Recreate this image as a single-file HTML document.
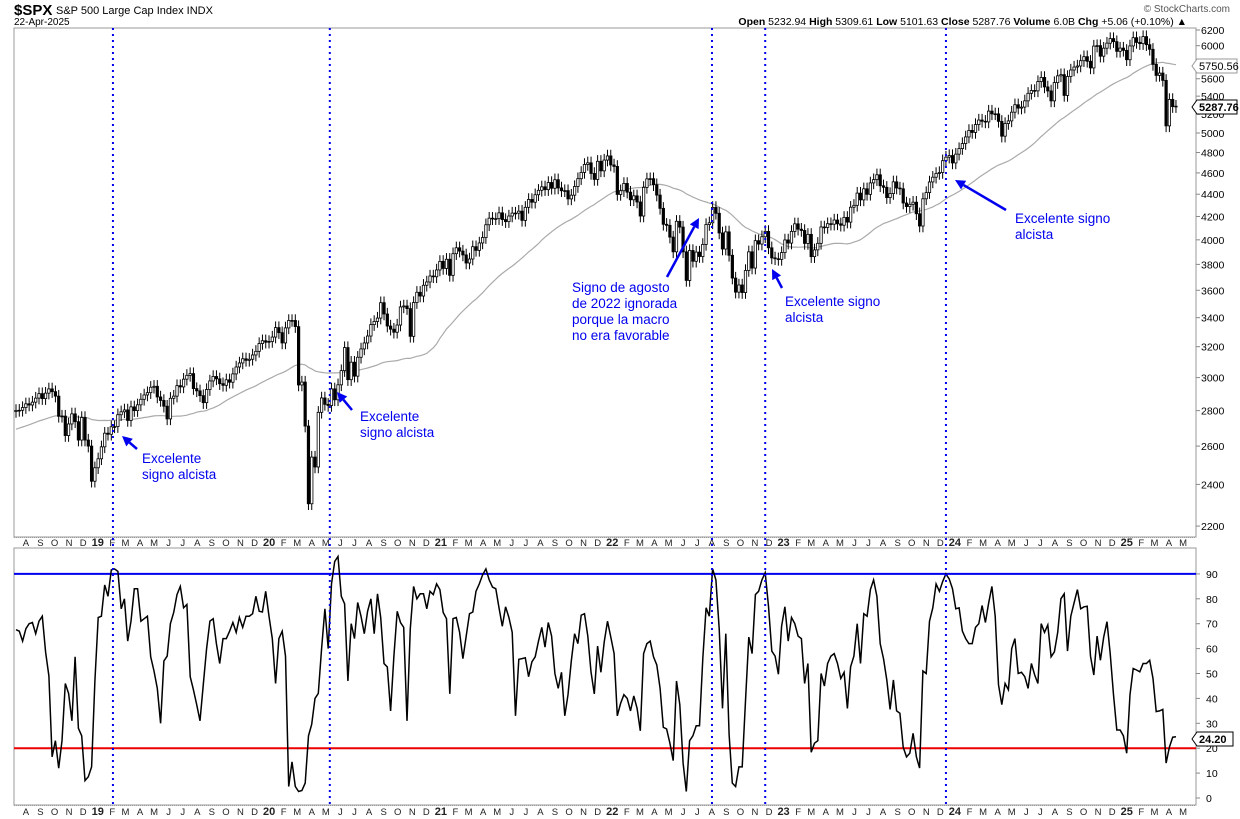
<!DOCTYPE html>
<html><head><meta charset="utf-8">
<style>
html,body{margin:0;padding:0;background:#fff;}
svg{display:block;font-family:"Liberation Sans",Arial,sans-serif;}
</style></head>
<body>
<svg id="chart" width="1240" height="819" viewBox="0 0 1240 819" xmlns="http://www.w3.org/2000/svg">
  <text x="14" y="15" font-size="15" font-weight="bold">$SPX</text>
  <text x="56" y="14" font-size="11">S&amp;P 500 Large Cap Index  INDX</text>
  <text x="14" y="25" font-size="10">22-Apr-2025</text>
  <text x="1230" y="12" font-size="10" fill="#555" text-anchor="end">© StockCharts.com</text>
  <text x="1187" y="25" font-size="10.5" text-anchor="end"><tspan font-weight="bold">Open</tspan> 5232.94 <tspan font-weight="bold">High</tspan> 5309.61 <tspan font-weight="bold">Low</tspan> 5101.63 <tspan font-weight="bold">Close</tspan> 5287.76 <tspan font-weight="bold">Volume</tspan> 6.0B <tspan font-weight="bold">Chg</tspan> +5.06 (+0.10%) ▲</text>
  <rect x="14" y="28" width="1182" height="509" fill="none" stroke="#999"/>
  <rect x="14" y="548" width="1182" height="257" fill="none" stroke="#999"/>
  <g id="gx"></g>
  <g id="gma"></g>
  <g id="gcandles"></g>
  <g id="gosc"></g>
  <g id="gvlines"></g>
  <g id="gann"></g>
</svg>
<script>
const priorCloses=[2550,2575,2587,2582,2588,2579,2602,2642,2652,2675,2690,2683,2743,2786,2811,2872,2762,2620,2732,2747,2691,2786,2752,2588,2641,2605,2656,2670,2663,2723,2728,2713,2721,2780,2755,2754,2718,2760,2759];
const closes2018=[2801,2802,2818,2840,2833,2850,2874,2901,2871,2904,2930,2913,2886,2767,2768,2658,2723,2781,2736,2633,2760,2633,2600,2416,2485];
const closes2019=[2532,2596,2671,2665,2707,2708,2776,2793,2804,2743,2822,2800,2834,2867,2893,2907,2940,2946,2881,2860,2826,2752,2873,2886,2950,2942,2990,3014,3025,2932,2918,2889,2847,2926,2979,3007,2992,2962,2952,2986,2971,3023,3067,3093,3120,3110,3117,3145,3169,3221,3240,3230];
const closes2020=[3235,3265,3330,3295,3225,3328,3380,3380,3337,2954,2972,2711,2305,2541,2489,2790,2875,2837,2830,2930,2864,2955,3044,3194,2987,3098,3009,3130,3185,3225,3272,3351,3373,3397,3508,3426,3341,3319,3298,3348,3477,3484,3465,3270,3509,3585,3557,3638,3663,3709,3703,3756];
const closes2021=[3824,3768,3841,3714,3886,3934,3907,3876,3811,3843,3943,3913,3974,4019,4128,4185,4180,4181,4232,4173,4155,4204,4230,4229,4247,4166,4281,4352,4327,4395,4436,4468,4442,4509,4455,4535,4458,4432,4433,4357,4391,4471,4545,4605,4682,4698,4595,4538,4713,4620,4725,4766];
const closes2022=[4677,4663,4398,4432,4500,4419,4349,4385,4329,4204,4463,4543,4545,4488,4392,4272,4132,4123,4023,3901,4158,4108,3901,3675,3912,3825,3899,3863,3962,4130,4145,4280,4228,4058,3924,4067,3873,3693,3586,3640,3583,3752,3901,3771,3993,3965,4026,4071,3934,3852,3845,3840];
const closes2023=[3895,3999,3973,4071,4136,4090,4079,3970,4046,3862,3917,3971,4109,4105,4137,4133,4169,4136,4124,4192,4151,4282,4299,4410,4348,4450,4399,4505,4536,4582,4478,4464,4369,4406,4515,4457,4450,4320,4288,4308,4327,4224,4117,4358,4415,4514,4559,4595,4604,4719,4754,4770];
const closes2024=[4697,4784,4840,4891,4959,5027,5006,5089,5137,5124,5117,5234,5204,5204,5123,4967,5100,5128,5222,5304,5267,5278,5347,5432,5464,5460,5567,5615,5505,5459,5347,5555,5634,5648,5408,5626,5703,5738,5751,5815,5864,5808,5728,5995,6001,5870,5969,6032,6090,6051,5930,5970];
const closes2025=[5942,5827,5997,6101,6041,6026,6115,6013,5955,5770,5639,5667,5581,5075,5363,5283,5288];
const oscValues=[67.6,67,63,68,70,70.5,66,71,73,58.6,49,16.5,23,12,23,46,42,31,56.7,28,25,7,8.5,12.5,47,72.5,73,85.6,81,91.6,92,91,76,80,63,71,84,84,71,72,73,56.7,51,44,30,55,57,70,74.5,81.7,85,76.4,77.7,48.7,43.5,37.5,31,45.6,60,71,72,62,54,64,64,67,70.5,66.5,72.5,68.5,73,73,74,81,75,74.7,83,73,64,46,64,67,57,4.6,14.5,4.6,2.6,3,6,25,
29.6,40,42,60,76,60,86,95,97,81,78,47,70,64,78.5,73,66,75,80,66,82,72.5,54,52.6,35,57,75,70.5,68.5,31,68,85,80,82,82,76,83,81.7,86,83.7,74.5,72,41.8,72,72.5,66.5,56,65,74,74.7,83,86,89.6,92,87.6,84.7,84,76.4,69,76.8,72.5,66.5,33,55.7,56,56.3,48.7,54.7,56.7,63,68.5,60.6,70.5,65,50,44,50.5,33,41.5,55,66,62,73.4,74,65,50.7,41.8,61,50.5,62.6,
71,64.6,58,33,38,41.5,40,35,41,36,27,58,62,63,56.7,53.4,44,28.4,27.7,22,15,47,37.5,14,2.6,23,25,29,29,56,76.4,73,92,87.6,68,36,66,25.6,6,4.6,12.5,12.5,39,64.6,58,81.7,83,87.6,90.5,77,59,57,49.7,69,76.8,63,72.5,70,65,64,46,54,18.4,22,23,50,45,54,57,58,54,48,50.5,36,52.7,57,70,54,74,73,83.7,87.6,81,62,56,47.4,35.6,47.4,35,34,
20.4,16.5,18,26,16.5,12,51,50,71,76.4,86,83,87,90,88,84,76,76.4,67,64,62,62,68.5,70,77.3,70.5,78.4,85,73,45.5,37.5,46,43.5,60,64,50,50.5,48.7,44,54,49.4,46,70,66.5,69.5,56.7,58.7,66.5,80,82,59,73,78.4,83.7,76,76.8,77,57,49.4,65,55.3,64.6,70.8,58,41.5,27.3,27.3,25,18,41.5,52,51.4,50.7,54,54,55.3,48,34.7,35,35.6,14,20.4,24.4,24.6];
const priceTicks=[2200,2400,2600,2800,3000,3200,3400,3600,3800,4000,4200,4400,4600,4800,5000,5200,5400,5600,5800,6000,6200];
const oscTicks=[0,10,20,30,40,50,60,70,80,90];
const signalWeeks=[29.5,95.5,211.8,228,283];
const upperLevel=[90];
const lowerLevel=[20];
const monthLetters=["J","F","M","A","M","J","J","A","S","O","N","D"];

const closes=[].concat(closes2018,closes2019,closes2020,closes2021,closes2022,closes2023,closes2024,closes2025);
const NS="http://www.w3.org/2000/svg";
const xW=i=>16+i*3.286;
const yP=v=>30+(Math.log(6200)-Math.log(v))*478.8;
const yO=v=>798-v*2.49;
const startDate=Date.UTC(2018,6,13);
const xDate=d=>xW((d-startDate)/86400000/7);
function mk(tag,parent,attrs){const e=document.createElementNS(NS,tag);for(const k in attrs)e.setAttribute(k,attrs[k]);parent.appendChild(e);return e;}

const gx=document.getElementById('gx');
priceTicks.forEach(v=>{
  const y=yP(v);
  const t=mk('line',gx,{x1:1196,x2:1200,y1:y,y2:y,stroke:'#888'});
  
  
  const l=mk('text',gx,{x:1201,y:y+4,'font-size':10.5});
  
  
  l.textContent=v;
});
oscTicks.forEach(v=>{
  const y=yO(v);
  const t=mk('line',gx,{x1:1196,x2:1200,y1:y,y2:y,stroke:'#888'});
  
  
  const l=mk('text',gx,{x:1206,y:y+4,'font-size':10.5});
  
  
  l.textContent=v;
});
[[537,546],[805,815]].forEach(([top,base])=>{
  mk('line',gx,{x1:14,x2:1196,y1:top+0.5,y2:top+0.5,stroke:'#999','stroke-dasharray':'1,1'});
  for(let y=2018,m=7;y<2025||(y===2025&&m<=4);){
    const x=xDate(Date.UTC(y,m,1))+1;
    const lab=mk('text',gx,{x:x,y:base,'font-size':m===0?11:9.5,'font-weight':m===0?'bold':'normal','text-anchor':'middle',fill:'#222'});
    
    
    lab.textContent=m===0?String(y).slice(2):monthLetters[m];
    m++;if(m>11){m=0;y++;}
  }
});
const all=priorCloses.concat(closes);
let pts=[];
closes.forEach((c,i)=>{
  const j=i+priorCloses.length;
  const w=all.slice(Math.max(0,j-39),j+1);
  const avg=w.reduce((a,b)=>a+b,0)/w.length;
  pts.push(xW(i).toFixed(1)+','+yP(avg).toFixed(1));
});
const ma=mk('polyline',document.getElementById('gma'),{points:pts.join(' '),fill:'none',stroke:'#aaa','stroke-width':1.2});


const gc=document.getElementById('gcandles');
closes.forEach((c,i)=>{
  const o=i===0?2795:closes[i-1];
  const hi=Math.max(o,c)*1.013, lo=Math.min(o,c)*0.987;
  const x=xW(i);
  const w=mk('line',gc,{x1:x,x2:x,y1:yP(hi),y2:yP(lo),stroke:'#000','stroke-width':1});
  
  
  const top=yP(Math.max(o,c)), bot=yP(Math.min(o,c));
  const b=mk('rect',gc,{x:x-1.2,y:top,width:2.4,height:Math.max(0.8,bot-top),fill:c>=o?'#fff':'#000',stroke:'#000','stroke-width':0.8});
  
  
});
const go=document.getElementById('gosc');
const hl=mk('line',go,{x1:14,x2:1196,y1:yO(upperLevel[0]),y2:yO(upperLevel[0]),stroke:'#0000ee','stroke-width':2});


const ll=mk('line',go,{x1:14,x2:1196,y1:yO(lowerLevel[0]),y2:yO(lowerLevel[0]),stroke:'#ee0000','stroke-width':2});


const op=mk('polyline',go,{points:oscValues.map((v,i)=>xW(i).toFixed(1)+','+yO(v).toFixed(1)).join(' '),fill:'none',stroke:'#000','stroke-width':1.5});


const gv=document.getElementById('gvlines');
signalWeeks.forEach(w=>{
  const x=xW(w);
  const vl=mk('line',gv,{x1:x,x2:x,y1:28,y2:805,stroke:'#0000ee','stroke-width':2,'stroke-dasharray':'2,4'});
  
  
});
const ga=document.getElementById('gann');
function box(x,y,w,txt,bold,col,name){
  const p=mk('path',ga,{d:`M${x-5},${y} L${x},${y-7} L${x+w},${y-7} L${x+w},${y+7} L${x},${y+7} Z`,fill:'#fff',stroke:col});
  
  
  const t=mk('text',ga,{x:x+2,y:y+4,'font-size':11,'font-weight':bold?'bold':'normal'});
  
  
  t.textContent=txt;
}
box(1197,66,40,'5750.56',false,'#999','ma-value-label');
box(1197,107,40,'5287.76',true,'#000','last-price-label');
box(1197,739,36,'24.20',true,'#000','osc-value-label');
function arrow(x1,y1,x2,y2,name){
  const ang=Math.atan2(y2-y1,x2-x1),L=10,W=5;
  const bx=x2-L*Math.cos(ang),by=y2-L*Math.sin(ang);
  const l=mk('line',ga,{x1:x1,y1:y1,x2:bx,y2:by,stroke:'#0000ee','stroke-width':2.5});
  
  
  const h=mk('polygon',ga,{points:`${x2},${y2} ${bx+W*Math.sin(ang)},${by-W*Math.cos(ang)} ${bx-W*Math.sin(ang)},${by+W*Math.cos(ang)}`,fill:'#0000ee'});
  
  
}
function note(x,y,lines,name){
  const t=mk('text',ga,{x:x,y:y,'font-size':13.5,fill:'#0000ee'});
  
  
  lines.forEach((s,k)=>{const sp=mk('tspan',t,{x:x,dy:k?16:0});sp.textContent=s;});
}
arrow(137,449,122,436,'arrow-2019');
note(142,463,['Excelente','signo alcista'],'note-2019');
arrow(352,410,337,392,'arrow-2020');
note(360,421,['Excelente','signo alcista'],'note-2020');
arrow(667,277,699,218,'arrow-aug-2022');
note(572,292,['Signo de agosto','de 2022 ignorada','porque la macro','no era favorable'],'note-aug-2022');
arrow(782,288,772,269,'arrow-dec-2022');
note(785,306,['Excelente signo','alcista'],'note-dec-2022');
arrow(1006,210,955,180,'arrow-dec-2023');
note(1015,223,['Excelente signo','alcista'],'note-dec-2023');
</script>
</body></html>
